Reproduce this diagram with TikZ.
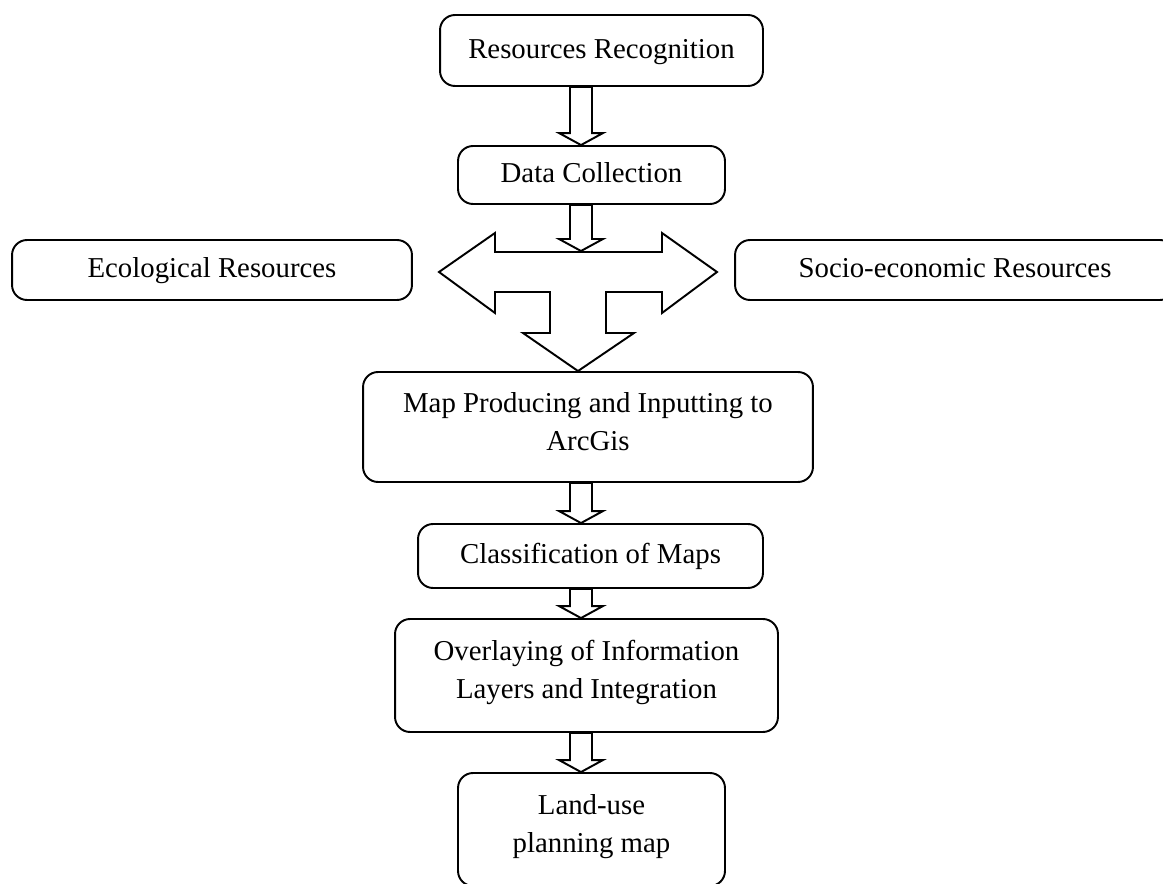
\documentclass[tikz,border=0pt]{standalone}
\usepackage{fontspec}
\setmainfont{Liberation Serif}
\usetikzlibrary{calc}

% hollow block arrow straight down, on the arrow axis
\newcommand{\blockdown}[2]{%
  \draw[blockarrow] let \p1=#1, \p2=#2, \p3=(axis) in
    (\x3-0.22cm,\y1) -- (\x3+0.22cm,\y1) -- (\x3+0.22cm,\y2+0.24cm)
    -- (\x3+0.44cm,\y2+0.24cm) -- (\x3,\y2) -- (\x3-0.44cm,\y2+0.24cm)
    -- (\x3-0.22cm,\y2+0.24cm) -- cycle;}

\begin{document}
\begin{tikzpicture}[x=0.02cm, y=-0.02cm,
  every node/.style={draw, rounded corners=0.3cm, line width=1.1pt, align=center, inner sep=0pt,
    font=\fontsize{16.4}{21.6}\selectfont, execute at begin node=\strut, execute at end node=\strut},
  blockarrow/.style={draw, line width=1.1pt, fill=white, line join=miter}]
\clip (0,0) rectangle (1163,884);
% Nodes
\node[minimum width=6.46cm, minimum height=1.42cm] (rec) at (601.5,50.5) {Resources Recognition};
\node[minimum width=5.34cm, minimum height=1.16cm] (data) at (591.5,175) {Data Collection};
\node[minimum width=8.00cm, minimum height=1.20cm] (eco) at (212,270) {Ecological Resources};
\node[minimum width=8.80cm, minimum height=1.20cm] (socio) at (955,270) {Socio-economic Resources};
\node[minimum width=9.00cm, minimum height=2.20cm] (map) at (588,427) {Map Producing and Inputting to\\ArcGis};
\node[minimum width=6.90cm, minimum height=1.28cm] (cls) at (590.5,556) {Classification of Maps};
\node[minimum width=7.66cm, minimum height=2.26cm] (ovl) at (586.5,675.5) {Overlaying of Information\\Layers and Integration};
\node[minimum width=5.34cm, minimum height=2.26cm] (land) at (591.5,829.5) {Land-use\\planning map};
\coordinate (axis) at (581,0);
\coordinate (hubtop) at (581,251);
% Arrows
\blockdown{(rec.south)}{(data.north)}
\blockdown{(data.south)}{(hubtop)}
\draw[blockarrow] (495,252) -- (495,233) -- (439,272) -- (495,313) -- (495,292)
  -- (550,292) -- (550,333) -- (523,333) -- (map.north -| 578,0) -- (634,333)
  -- (606,333) -- (606,292) -- (662,292) -- (662,313) -- (717,272)
  -- (662,233) -- (662,252) -- cycle;
\blockdown{(map.south)}{(cls.north)}
\blockdown{(cls.south)}{(ovl.north)}
\blockdown{(ovl.south)}{(land.north)}
\end{tikzpicture}
\end{document}
